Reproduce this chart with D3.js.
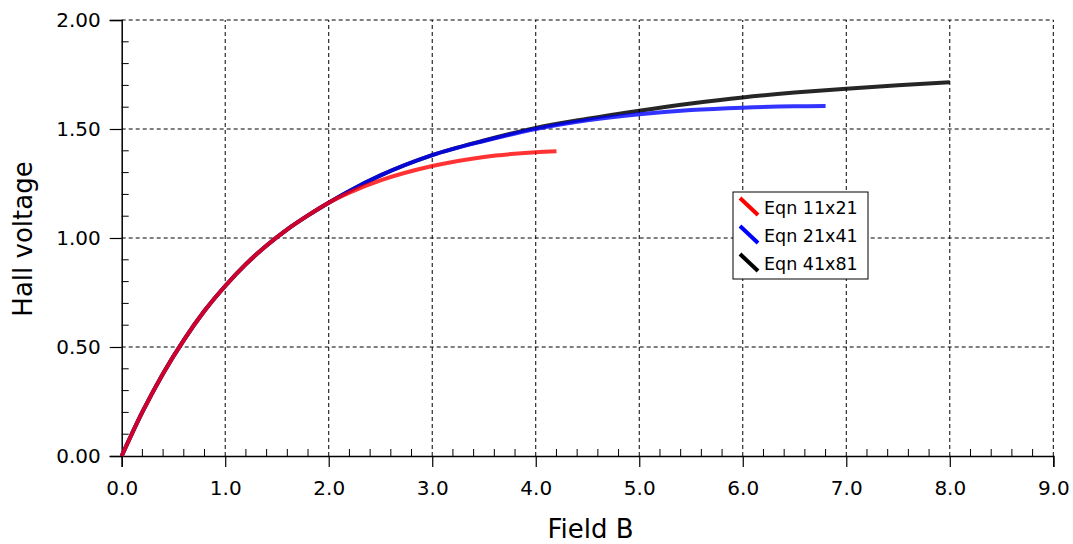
<!DOCTYPE html>
<html>
<head>
<meta charset="utf-8">
<script src="https://cdn.jsdelivr.net/npm/d3@7"></script>
<style>
  body { margin: 0; background: #fff; }
  text { font-family: "DejaVu Sans", sans-serif; fill: #000; }
</style>
</head>
<body>
<svg id="chart" width="1073" height="544"></svg>
<script>
// values
const sharedB = [0, 0.2, 0.4, 0.6, 0.8, 1.0, 1.2, 1.4, 1.6, 1.8, 2.0];
const sharedV = [0, 0.202, 0.379, 0.532, 0.666, 0.780, 0.880, 0.966, 1.040, 1.104, 1.162];

const redB = [2.2, 2.5, 3.0, 3.5, 4.0, 4.2];
const redV = [1.208, 1.264, 1.330, 1.372, 1.393, 1.398];

const blueB = [2.2, 2.5, 3.0, 3.5, 4.0, 4.5, 5.0, 5.5, 6.0, 6.5, 6.8];
const blueV = [1.216, 1.287, 1.380, 1.445, 1.500, 1.540, 1.568, 1.587, 1.598, 1.604, 1.605];

const blackB = [2.2, 2.5, 3.0, 3.5, 4.0, 4.5, 5.0, 5.5, 6.0, 6.5, 7.0, 7.5, 8.0];
const blackV = [1.216, 1.287, 1.380, 1.447, 1.505, 1.547, 1.584, 1.617, 1.645, 1.667, 1.685, 1.701, 1.715];

const seriesNames = ['Eqn 11x21', 'Eqn 21x41', 'Eqn 41x81'];
const seriesColors = ['#ff0000', '#0000ff', '#000000'];

const xTicks = [0, 1, 2, 3, 4, 5, 6, 7, 8, 9];
const yTicks = [0, 0.5, 1.0, 1.5, 2.0];

const toPts = (bs, vs) => bs.map((b, i) => ({ b: b, v: vs[i] }));
const curves = [
    toPts(sharedB.concat(redB), sharedV.concat(redV)),
    toPts(sharedB.concat(blueB), sharedV.concat(blueV)),
    toPts(sharedB.concat(blackB), sharedV.concat(blackV))
];

const svg = d3.select('#chart');
const x = d3.scaleLinear().domain([0, 9]).range([121.7, 1053.3]);
const y = d3.scaleLinear().domain([0, 2]).range([456, 20]);

// grid
const grid = svg.append('g').attr('stroke', '#000').attr('stroke-width', 1).attr('stroke-dasharray', '4,3');
grid.selectAll('line.vg').data(xTicks.slice(1)).join('line')
    .attr('class', 'vg')
    .attr('x1', d => x(d)).attr('x2', d => x(d))
    .attr('y1', y(0)).attr('y2', y(2));
grid.selectAll('line.hg').data(yTicks.slice(1)).join('line')
    .attr('class', 'hg')
    .attr('x1', x(0)).attr('x2', x(9))
    .attr('y1', d => y(d)).attr('y2', d => y(d));

// x axis
const xAxis = svg.append('g').attr('transform', 'translate(0,' + y(0) + ')')
    .call(d3.axisBottom(x).tickValues(xTicks).tickFormat(d3.format('.1f')).tickSize(11).tickPadding(14));
xAxis.select('.domain').attr('stroke-width', 1.5);
xAxis.selectAll('.tick line').attr('stroke-width', 1.2);
xAxis.selectAll('text').style('font-size', '20px').style('font-family', '"DejaVu Sans", sans-serif');
const xMinor = d3.range(0, 9.001, 0.2).filter(d => Math.abs(d - Math.round(d)) > 0.01);
svg.append('g').selectAll('line').data(xMinor).join('line')
    .attr('x1', d => x(d)).attr('x2', d => x(d))
    .attr('y1', y(0)).attr('y2', y(0) - 7)
    .attr('stroke', '#000').attr('stroke-width', 1);

// y axis
const yAxis = svg.append('g').attr('transform', 'translate(' + x(0) + ',0)')
    .call(d3.axisLeft(y).tickValues(yTicks).tickFormat(d3.format('.2f')).tickSize(12).tickPadding(9));
yAxis.select('.domain').attr('stroke-width', 1.5);
yAxis.selectAll('.tick line').attr('stroke-width', 1.2);
yAxis.selectAll('text').style('font-size', '20px').style('font-family', '"DejaVu Sans", sans-serif');
const yMinor = d3.range(0, 2.001, 0.1).filter(d => Math.abs(d * 2 - Math.round(d * 2)) > 0.01);
svg.append('g').selectAll('line').data(yMinor).join('line')
    .attr('x1', x(0)).attr('x2', x(0) + 7)
    .attr('y1', d => y(d)).attr('y2', d => y(d))
    .attr('stroke', '#000').attr('stroke-width', 1);

// axis titles
svg.append('text').attr('x', (x(0) + x(9)) / 2 + 3).attr('y', 538)
    .attr('text-anchor', 'middle').style('font-size', '26px').text('Field B');
svg.append('text').attr('transform', 'translate(32,239) rotate(-90)')
    .attr('text-anchor', 'middle').style('font-size', '26px').text('Hall voltage');

// curves: black first, red on top
const line = d3.line().x(d => x(d.b)).y(d => y(d.v)).curve(d3.curveMonotoneX);
[2, 1, 0].forEach(i => {
    svg.append('path').datum(curves[i])
        .attr('d', line)
        .attr('fill', 'none')
        .attr('stroke', seriesColors[i])
        .attr('stroke-opacity', i == 2 ? 0.85 : 0.8)
        .attr('stroke-width', 4);
});

// legend
const legend = svg.append('g').attr('transform', 'translate(733,192)');
legend.append('rect').attr('width', 135).attr('height', 87)
    .attr('fill', '#fff').attr('stroke', '#000').attr('stroke-width', 1);
seriesNames.forEach((name, i) => {
    const row = legend.append('g').attr('transform', 'translate(0,' + (i * 28) + ')');
    row.append('line').attr('x1', 7).attr('y1', 6).attr('x2', 25).attr('y2', 23)
        .attr('stroke', seriesColors[i]).attr('stroke-width', 4);
    row.append('text').attr('x', 31).attr('y', 22).style('font-size', '17.5px').text(name);
});
</script>
</body>
</html>
